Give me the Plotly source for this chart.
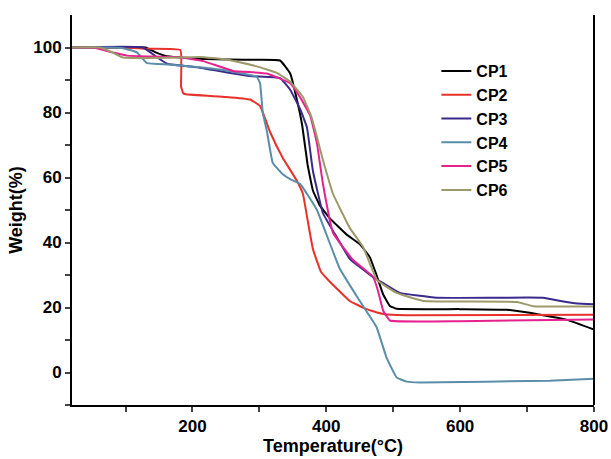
import plotly.graph_objects as go

# ---- data ----
cp1_t = [20, 100, 130, 145, 160, 200, 256, 300, 331, 346, 356, 364, 372, 380, 390, 405, 430, 450, 465, 475, 485, 495, 505, 600, 670, 720, 760, 800]
cp1_w = [100, 100, 100, 98.5, 97.4, 96.6, 96.3, 96.2, 96, 92, 84, 76, 64, 56, 51.5, 47.5, 42.5, 39.5, 35.5, 30, 24, 20.5, 19.6, 19.5, 19.3, 17.8, 16.2, 13.2]

cp2_t = [20, 100, 130, 182, 183, 186, 190, 250, 286, 301, 316, 335, 356, 365, 372, 380, 392, 405, 435, 460, 485, 520, 800]
cp2_w = [100, 100, 99.6, 99.2, 88, 86, 85.6, 84.8, 84, 82, 74, 66, 59, 55, 47, 38, 31, 28, 22, 19.5, 18, 17.6, 17.8]

cp3_t = [20, 126, 147, 162, 211, 286, 331, 346, 361, 371, 380, 395, 416, 435, 470, 485, 510, 565, 724, 750, 775, 800]
cp3_w = [100, 100, 97, 95, 93.8, 91.2, 90.6, 87, 81, 75.5, 62, 49, 41.5, 35, 29.3, 27.5, 24.5, 23, 23, 22, 21.2, 21]

cp4_t = [20, 80, 96, 117, 132, 166, 241, 296, 301, 305, 311, 320, 335, 346, 361, 371, 386, 420, 450, 475, 490, 505, 520, 540, 734, 800]
cp4_w = [100, 100, 99.8, 98.5, 95.2, 94.8, 93.2, 91, 89, 80, 74.5, 64.5, 61, 59.5, 58, 55, 50, 32, 22, 14, 4.6, -1.5, -2.8, -3.1, -2.5, -1.9]

cp5_t = [20, 51, 81, 102, 180, 216, 261, 311, 346, 361, 376, 386, 395, 410, 440, 470, 477, 485, 495, 600, 800]
cp5_w = [100, 100, 98.5, 97.5, 97, 95.8, 92.8, 92, 89, 84.6, 79, 70.5, 58, 43, 34.6, 29.4, 25.3, 19, 16, 15.8, 16.3]

cp6_t = [20, 62, 81, 96, 180, 211, 251, 296, 326, 346, 365, 378, 395, 410, 435, 455, 476, 506, 545, 685, 709, 800]
cp6_w = [100, 100, 98.4, 96.9, 96.9, 97.1, 96.3, 94.2, 92.2, 89.5, 84.8, 78.5, 65.4, 55, 44.5, 38.6, 28.4, 24.4, 22, 21.7, 20.4, 20.3]

series_names = ["CP1", "CP2", "CP3", "CP4", "CP5", "CP6"]
series_colors = ["#000000", "#e8312a", "#3b2a8c", "#5a8ea8", "#e6218e", "#9c9a6a"]

x_ticks = [200, 400, 600, 800]
y_ticks = [0, 20, 40, 60, 80, 100]

fig = go.Figure()
for name, color, t, w in zip(series_names, series_colors,
                             [cp1_t, cp2_t, cp3_t, cp4_t, cp5_t, cp6_t],
                             [cp1_w, cp2_w, cp3_w, cp4_w, cp5_w, cp6_w]):
    fig.add_trace(go.Scatter(x=t, y=w, mode="lines", name=name,
                             line=dict(color=color, width=2, shape="spline", smoothing=0.3)))

font_family = "Liberation Sans, Arial, sans-serif"
fig.update_layout(
    width=611, height=459,
    margin=dict(l=72, r=17, t=15, b=54),
    paper_bgcolor="white", plot_bgcolor="white",
    font=dict(family=font_family, color="black"),
    showlegend=True,
    legend=dict(x=0.698, y=0.9, xanchor="left", yanchor="top",
                bgcolor="rgba(0,0,0,0)", font=dict(size=16, weight="bold"),
                tracegroupgap=0, itemwidth=30),
    xaxis=dict(range=[20, 800], tickvals=x_ticks, ticks="outside", ticklen=5, tickwidth=2,
               showline=True, linecolor="black", linewidth=2, showgrid=False, zeroline=False,
               automargin=False,
               tickfont=dict(size=17, weight="bold"),
               title=dict(text="Temperature(°C)", font=dict(size=18, weight="bold"), standoff=0),
               minor=dict(tickvals=[100, 300, 500, 700], ticks="outside", ticklen=5, tickwidth=2, showgrid=False)),
    yaxis=dict(range=[-10, 110], tickvals=y_ticks, ticks="outside", ticklen=5, tickwidth=2,
               showline=True, linecolor="black", linewidth=2, showgrid=False, zeroline=False,
               automargin=False,
               tickfont=dict(size=17, weight="bold"),
               title=dict(text="Weight(%)", font=dict(size=18, weight="bold"), standoff=6),
               minor=dict(tickvals=[-10, 10, 30, 50, 70, 90], ticks="outside", ticklen=5, tickwidth=2, showgrid=False)),
)
fig.add_shape(type="line", xref="paper", yref="paper", x0=1, x1=1, y0=0, y1=1,
              line=dict(color="black", width=2))

fig.write_html("out.html", config={"displayModeBar": False},
               post_script="document.body.style.margin='0px';document.body.style.overflow='hidden';")
